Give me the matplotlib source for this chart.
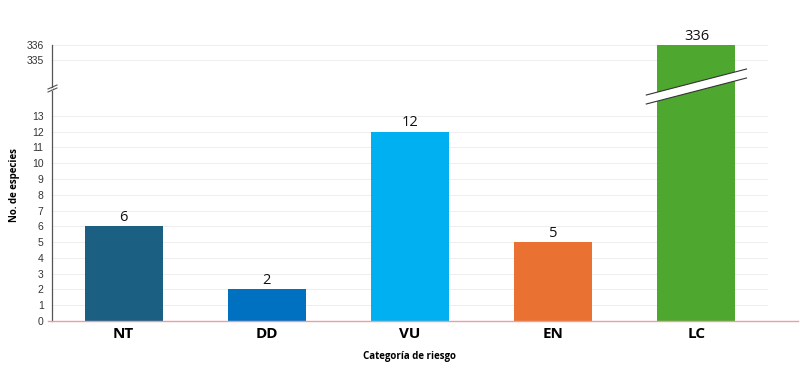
import matplotlib
matplotlib.use("Agg")
import matplotlib.pyplot as plt
from matplotlib.patches import Polygon
from matplotlib.transforms import blended_transform_factory
from matplotlib.lines import Line2D

categories = ["NT", "DD", "VU", "EN", "LC"]
values = [6, 2, 12, 5, 336]
colors = ["#1b5f82", "#0070c0", "#00b0f0", "#e97132", "#4ea72e"]
lower_ticks = list(range(0, 14))
upper_ticks = [335, 336]

fig = plt.figure(figsize=(8, 3.82), dpi=100)
left, width = 52 / 800, 716 / 800
y0 = 1 - 321 / 382
ybrk = 1 - 88 / 382
ytop = 1 - 45 / 382

ax_lo = fig.add_axes([left, y0, width, ybrk - y0])
ax_hi = fig.add_axes([left, ybrk, width, ytop - ybrk])

x = list(range(len(categories)))
bw = 0.545
for ax in (ax_lo, ax_hi):
    ax.bar(x, values, width=bw, color=colors, zorder=3)
    ax.set_xlim(-0.5, 4.5)
    for s in ("top", "right", "bottom"):
        ax.spines[s].set_visible(False)
    ax.spines["left"].set_color("#555555")
    ax.spines["left"].set_linewidth(0.9)
    ax.tick_params(axis="y", length=0, labelsize=7.5, pad=6, labelcolor="#333333")
    ax.grid(axis="y", color="#eeeeee", linewidth=0.7, zorder=0)
    ax.set_axisbelow(True)

ax_lo.set_ylim(0, 14.77)
ax_lo.set_yticks(lower_ticks)
ax_hi.set_ylim(333.2, 336)
ax_hi.set_yticks(upper_ticks)
ax_hi.set_xticks([])
for ax in (ax_lo, ax_hi):
    for lab in ax.get_yticklabels():
        lab.set_family("Liberation Sans")

ax_lo.set_xticks(x)
ax_lo.set_xticklabels(categories, fontsize=11, fontweight="bold", family="Open Sans")
ax_lo.tick_params(axis="x", length=0, pad=4)

# value labels
for xi, v in zip(x, values):
    target = ax_hi if v > 300 else ax_lo
    target.annotate(str(v), (xi, v), xytext=(0, 1), textcoords="offset points",
                    ha="center", va="bottom", fontsize=10.5, family="Open Sans",
                    annotation_clip=False, color="#111111")

# baseline
fig.add_artist(Line2D([48 / 800, 798 / 800], [y0, y0], color="#e8a0a0", linewidth=1.0))

# break slash across LC bar
tr = blended_transform_factory(ax_lo.transData, fig.transFigure)
xl, xr = 4 - 0.35, 4 + 0.35
def fy(p):
    return 1 - p / 382
poly = Polygon([[xl, fy(95)], [xr, fy(69)], [xr, fy(78)], [xl, fy(104)]],
               closed=True, transform=tr, facecolor="white", edgecolor="none", zorder=10)
fig.add_artist(poly)
fig.add_artist(Line2D([xl, xr], [fy(95), fy(69)], transform=tr, color="#333333", linewidth=0.8, zorder=11))
fig.add_artist(Line2D([xl, xr], [fy(104), fy(78)], transform=tr, color="#333333", linewidth=0.8, zorder=11))

# break mark on the y axis
fig.add_artist(Line2D([48 / 800, 57 / 800], [fy(89), fy(85)], color="#555555", linewidth=0.8))
fig.add_artist(Line2D([48 / 800, 57 / 800], [fy(92), fy(88)], color="#555555", linewidth=0.8))
fig.add_artist(Polygon([[52.5 / 800, fy(90.5)], [52.5 / 800, fy(87.5)], [51.5 / 800, fy(87.5)], [51.5 / 800, fy(90.5)]],
                       transform=fig.transFigure, facecolor="white", edgecolor="none"))

fig.text(15 / 800, fy(185), "No. de especies", rotation=90, ha="center", va="center",
         fontsize=7, fontweight="bold", family="Open Sans")
fig.text(410 / 800, fy(356), "Categoría de riesgo", ha="center", va="center",
         fontsize=7, fontweight="bold", family="Open Sans")

fig.savefig("out.png", dpi=100)
